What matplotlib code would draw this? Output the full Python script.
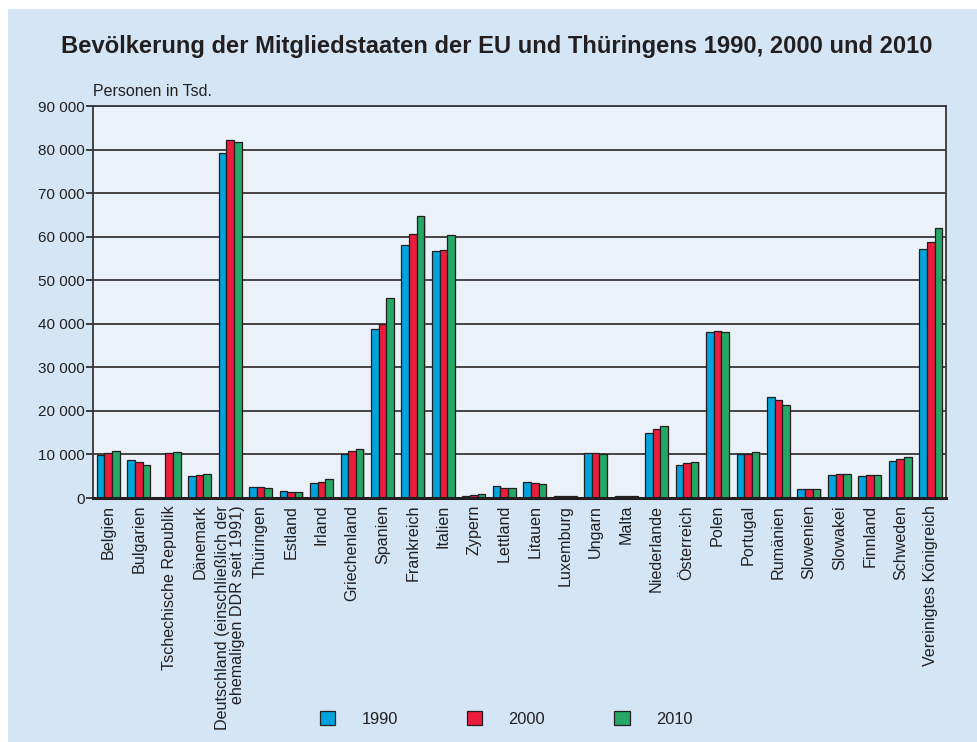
import numpy as np
import matplotlib
matplotlib.use('Agg')
import matplotlib.pyplot as plt
from matplotlib.patches import Rectangle, Patch
from matplotlib.ticker import FuncFormatter

plt.rcParams['font.family'] = ['Liberation Sans', 'DejaVu Sans']

laender = ['Belgien', 'Bulgarien', 'Tschechische Republik', 'Dänemark',
           'Deutschland (einschließlich der\nehemaligen DDR seit 1991)',
           'Thüringen', 'Estland', 'Irland', 'Griechenland', 'Spanien',
           'Frankreich', 'Italien', 'Zypern', 'Lettland', 'Litauen',
           'Luxemburg', 'Ungarn', 'Malta', 'Niederlande', 'Österreich',
           'Polen', 'Portugal', 'Rumänien', 'Slowenien', 'Slowakei',
           'Finnland', 'Schweden', 'Vereinigtes Königreich']

# Personen in Tsd.
pop1990 = [9948, 8767, 0, 5135, 79113, 2611, 1571, 3507, 10121, 38851,
           58100, 56694, 573, 2668, 3694, 379, 10375, 352, 14893, 7645,
           38038, 9996, 23211, 1996, 5288, 4974, 8527, 57157]
pop2000 = [10239, 8191, 10278, 5330, 82163, 2431, 1401, 3777, 10904, 40050,
           60546, 56924, 690, 2382, 3512, 434, 10222, 380, 15864, 8002,
           38264, 10195, 22455, 1988, 5399, 5171, 8861, 58785]
pop2010 = [10840, 7564, 10507, 5535, 81802, 2249, 1340, 4468, 11305, 45989,
           64714, 60340, 820, 2248, 3329, 502, 10014, 414, 16575, 8375,
           38167, 10638, 21462, 2047, 5425, 5351, 9341, 62008]

jahre = ['1990', '2000', '2010']
farben = ['#00a3dc', '#ec1c3c', '#25a766']
txt = '#231f20'

fig = plt.figure(figsize=(9.78, 7.42), dpi=100, facecolor='white')
fig.patches.append(Rectangle((8/978, 0), 1, (742-9)/742, transform=fig.transFigure,
                             facecolor='#d4e6f5', edgecolor='none', zorder=-10))

ax = fig.add_axes([93/978, 1-498/742, (946-93)/978, (498-106)/742])
ax.set_facecolor('#ebf1f9')

x = np.arange(len(laender))
w = 0.25
for k, (werte, col) in enumerate(zip([pop1990, pop2000, pop2010], farben)):
    # shadow
    ax.bar(x + (k-1)*w + 0.04, werte, w, color='#8a8a8a', alpha=0.5, zorder=2,
           linewidth=0)
    ax.bar(x + (k-1)*w, werte, w, color=col, edgecolor='#231f20',
           linewidth=0.9, zorder=3)

ax.set_xlim(-0.5, len(laender)-0.5)
ax.set_ylim(0, 90000)
ax.set_yticks(np.arange(0, 90001, 10000))
ax.yaxis.set_major_formatter(FuncFormatter(lambda v, p: '{:,.0f}'.format(v).replace(',', ' ')))
ax.grid(axis='y', color='#3a3536', linewidth=1.3, zorder=1)
ax.set_axisbelow(True)
ax.tick_params(axis='y', labelsize=11, colors=txt, length=5, width=1.2, pad=1)
ax.tick_params(axis='x', length=0, pad=5)
ax.set_xticks(x)
ax.set_xticklabels(laender, rotation=90, fontsize=11.6, color=txt,
                   va='top', ha='center', multialignment='right', linespacing=1.0)
for s in ['left', 'right', 'top']:
    ax.spines[s].set_color('#3a3536')
    ax.spines[s].set_linewidth(1.3)
ax.spines['bottom'].set_color('#231f20')
ax.spines['bottom'].set_linewidth(2.2)
ax.spines['bottom'].set_zorder(5)

fig.text(93/978, 1-92/742, 'Personen in Tsd.', fontsize=11.5, color=txt,
         ha='left', va='center')
fig.text(497/978, 1-47/742,
         'Bevölkerung der Mitgliedstaaten der EU und Thüringens 1990, 2000 und 2010',
         fontsize=17.1, fontweight='bold', color=txt, ha='center', va='center')

handles = [Patch(facecolor=c, edgecolor='#231f20', linewidth=0.9) for c in farben]
fig.legend(handles, jahre, loc='center', bbox_to_anchor=(506/978, 1-719/742),
           ncol=3, frameon=False, fontsize=11.8, handlelength=0.95, handleheight=0.95,
           handletextpad=1.6, columnspacing=4.2, labelcolor=txt)

fig.savefig('out.png', dpi=100, facecolor=fig.get_facecolor())
